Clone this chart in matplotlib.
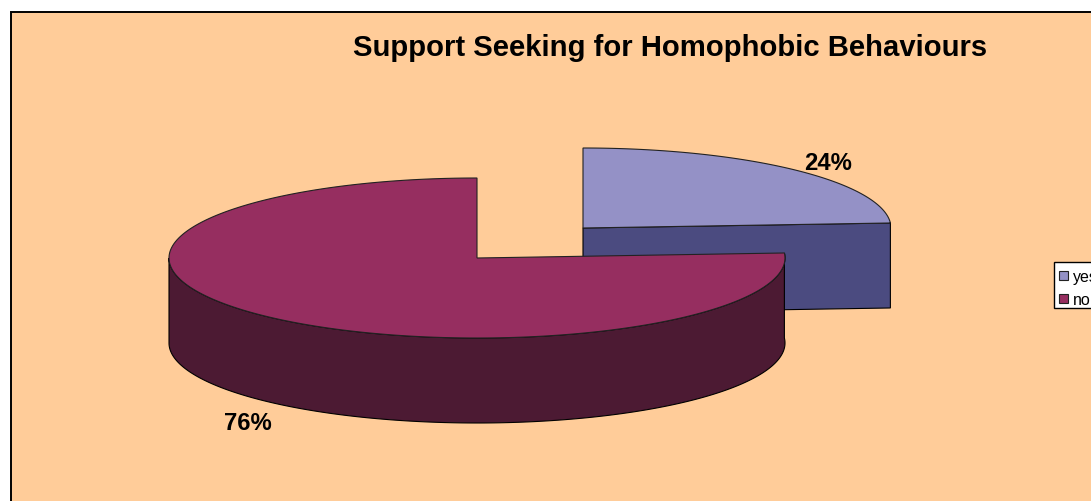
import numpy as np
import matplotlib
matplotlib.use("Agg")
from matplotlib import pyplot as plt
from matplotlib.patches import Polygon, Rectangle

plt.rcParams['font.family'] = ['Liberation Sans', 'DejaVu Sans']

title = "Support Seeking for Homophobic Behaviours"
labels = ["yes", "no"]
values = [24, 76]

top_colors = ["#9491C6", "#962E60"]
side_colors = ["#4B4B80", "#4C1A33"]
bg = "#FFCC99"

# pixel layout of the two exploded slices
centers = [(583, 229), (477, 259)]
rx = 308
ry = 80
depth = 85


def arc(c, a0, a1):
    t = np.radians(np.linspace(a0, a1, 200))
    return np.column_stack([c[0] + rx * np.cos(t), c[1] - ry * np.sin(t)])


fig = plt.figure(figsize=(10.91, 5.02), dpi=100, facecolor="white")
ax = fig.add_axes([0, 0, 1, 1])
ax.set_xlim(0, 1091)
ax.set_ylim(502, 0)
ax.axis("off")

ax.add_patch(Rectangle((10.5, 12.5), 1200, 600, fc=bg, ec="black", lw=1.4, zorder=0))

# slices go clockwise from 12 o'clock
end_yes = 90 - values[0] / sum(values) * 360
end_no = end_yes - values[1] / sum(values) * 360

# yes slice: flat cut face, then top
c = centers[0]
p = arc(c, end_yes, end_yes)[0]
face = [c, p, (p[0], p[1] + depth), (c[0], c[1] + depth)]
ax.add_patch(Polygon(face, fc=side_colors[0], ec="black", lw=0.8, zorder=1))
top = np.vstack([[c], arc(c, 90, end_yes)])
ax.add_patch(Polygon(top, fc=top_colors[0], ec="#222222", lw=0.8, zorder=2))

# no slice: outer wall on the visible lower half, then top
c = centers[1]
rim = arc(c, end_yes, -180)
wall = np.vstack([rim, rim[::-1] + [0, depth]])
ax.add_patch(Polygon(wall, fc=side_colors[1], ec="black", lw=0.8, zorder=3))
top = np.vstack([[c], arc(c, end_yes, end_no)])
ax.add_patch(Polygon(top, fc=top_colors[1], ec="#222222", lw=0.8, zorder=4))

ax.text(670.5, 47.5, title, fontsize=21.1, fontweight="bold", ha="center", va="center", color="black")
ax.text(828, 163.5, f"{values[0]}%", fontsize=17.2, fontweight="bold", ha="center", va="center", color="black")
ax.text(248, 423.5, f"{values[1]}%", fontsize=17.2, fontweight="bold", ha="center", va="center", color="black")

# legend runs off the right edge like in the original, so it is drawn by hand
ax.add_patch(Rectangle((1053.5, 262.5), 100, 46.5, fc="white", ec="black", lw=1.0, zorder=5))
for i, lab in enumerate(labels):
    y = 276.5 + i * 23
    ax.add_patch(Rectangle((1059, y - 4.5), 9, 9, fc=top_colors[i], ec="#222222", lw=0.8, zorder=6))
    ax.text(1073, y + 5.5, lab, fontsize=11.5, ha="left", va="baseline", color="black", zorder=6)

fig.savefig("out.png", dpi=100)
